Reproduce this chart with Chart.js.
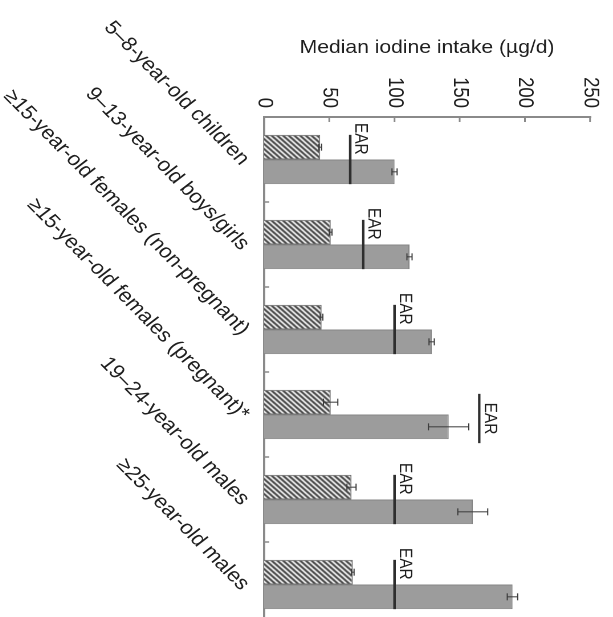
<!DOCTYPE html>
<html>
<head>
<meta charset="utf-8">
<script src="https://cdn.jsdelivr.net/npm/chart.js@4.4.0/dist/chart.umd.min.js"></script>
<style>
  html, body { margin: 0; padding: 0; background: #fff; }
  #frame { position: relative; width: 613px; height: 617px; overflow: hidden; background: #fff; }
  /* the chart is laid out as a column chart, then turned a quarter clockwise */
  #turn {
    position: absolute; left: 0; top: 0;
    width: 640px; height: 538px;
    transform-origin: 0 0;
    transform: translate(613px, 0) rotate(90deg) scale(1, 1.14);
  }
</style>
</head>
<body>
<div id="frame"><div id="turn"><canvas id="c" width="640" height="538"></canvas></div></div>
<script>
const categories = [
  '5–8-year-old children',
  '9–13-year-old boys/girls',
  '≥15-year-old females (non-pregnant)',
  '≥15-year-old females (pregnant)*',
  '19–24-year-old males',
  '≥25-year-old males'
];
const hatchedValues = [43, 51, 44, 51, 67, 68];
const hatchedErrors = [1, 1, 1, 5.5, 3.5, 1];
const solidValues   = [100, 111.5, 128.5, 141.5, 160, 190.5];
const solidErrors   = [2, 2, 2, 15.5, 11.5, 4];
const earValues     = [66, 76, 100, 165, 100, 100];
const valueTicks    = [0, 50, 100, 150, 200, 250];

const FONT = "'Liberation Sans', Arial, Helvetica, sans-serif";
const TEXT = '#1e1e1e';
const AXIS = '#8a8a8a';

// diagonal hatch fill
function makeHatch() {
  const s = 5;
  const p = document.createElement('canvas');
  p.width = s; p.height = s;
  const g = p.getContext('2d');
  g.fillStyle = '#ffffff';
  g.fillRect(0, 0, s, s);
  g.strokeStyle = '#333333';
  g.lineWidth = 1.8;
  g.beginPath();
  g.moveTo(-1, s + 1); g.lineTo(s + 1, -1);
  g.moveTo(-1, 1); g.lineTo(1, -1);
  g.moveTo(s - 1, s + 1); g.lineTo(s + 1, s - 1);
  g.stroke();
  return g.createPattern(p, 'repeat');
}

const overlay = {
  id: 'overlay',
  afterDatasetsDraw(chart) {
    const { ctx, scales: { x, y } } = chart;
    const m0 = chart.getDatasetMeta(0).data;
    const m1 = chart.getDatasetMeta(1).data;
    ctx.save();

    // error bars
    const sets = [[m0, hatchedValues, hatchedErrors], [m1, solidValues, solidErrors]];
    ctx.strokeStyle = '#3a3a3a';
    ctx.lineWidth = 1;
    sets.forEach(([bars, vals, errs]) => {
      bars.forEach((b, i) => {
        const lo = y.getPixelForValue(vals[i] - errs[i]);
        const hi = y.getPixelForValue(vals[i] + errs[i]);
        ctx.beginPath();
        ctx.moveTo(b.x, lo); ctx.lineTo(b.x, hi);
        ctx.moveTo(b.x - 3.5, lo); ctx.lineTo(b.x + 3.5, lo);
        ctx.moveTo(b.x - 3.5, hi); ctx.lineTo(b.x + 3.5, hi);
        ctx.stroke();
      });
    });

    // EAR reference marks
    ctx.font = '15.5px ' + FONT;
    ctx.fillStyle = TEXT;
    ctx.textBaseline = 'alphabetic';
    earValues.forEach((v, i) => {
      const a = m0[i], b = m1[i];
      let left = a.x - a.width / 2;
      let right = b.x + b.width / 2;
      const py = y.getPixelForValue(v);
      const clear = v > solidValues[i] + solidErrors[i];
      if (clear) { left += 4; right += 4; }
      ctx.strokeStyle = '#2e2e2e';
      ctx.lineWidth = 2.2;
      ctx.beginPath();
      ctx.moveTo(left, py); ctx.lineTo(right, py);
      ctx.stroke();
      if (clear) {
        ctx.textAlign = 'center';
        ctx.fillText('EAR', (left + right) / 2, py - 5);
      } else {
        ctx.textAlign = 'left';
        ctx.fillText('EAR', left - 12, py - 4.5);
      }
    });
    ctx.restore();
  },
  afterDraw(chart) {
    const { ctx, scales: { x, y } } = chart;
    ctx.save();
    ctx.strokeStyle = AXIS;
    ctx.lineWidth = 1.5;
    ctx.beginPath();
    // inward ticks on the value axis
    valueTicks.forEach(v => {
      const py = y.getPixelForValue(v);
      ctx.moveTo(x.left, py); ctx.lineTo(x.left + 5, py);
    });
    // inward ticks between categories
    for (let i = 0; i < categories.length; i++) {
      const px = (x.getPixelForValue(i) + x.getPixelForValue(i + 1)) / 2;
      ctx.moveTo(px, y.bottom); ctx.lineTo(px, y.bottom - 4.5);
    }
    ctx.stroke();
    ctx.restore();
  }
};

new Chart(document.getElementById('c'), {
  type: 'bar',
  data: {
    labels: categories,
    datasets: [
      {
        label: 'Group A',
        data: hatchedValues,
        backgroundColor: makeHatch(),
        borderColor: '#6e6e6e',
        borderWidth: 1,
        barPercentage: 1.0,
        categoryPercentage: 0.58
      },
      {
        label: 'Group B',
        data: solidValues,
        backgroundColor: '#9c9c9c',
        borderColor: '#858585',
        borderWidth: 1,
        barPercentage: 1.0,
        categoryPercentage: 0.58
      }
    ]
  },
  options: {
    responsive: false,
    animation: false,
    devicePixelRatio: 2,
    layout: { padding: { left: 0, top: 16, right: 13, bottom: 0 } },
    plugins: { legend: { display: false }, tooltip: { enabled: false } },
    scales: {
      x: {
        grid: { display: false, drawTicks: false },
        border: { display: true, color: AXIS, width: 2 },
        ticks: {
          minRotation: 41, maxRotation: 41,
          padding: 8,
          labelOffset: 3,
          color: TEXT,
          font: { family: FONT, size: 19.5 }
        },
        afterFit(scale) { scale.height = 232; }
      },
      y: {
        min: 0, max: 250,
        grid: { display: false, drawTicks: false },
        border: { display: true, color: AXIS, width: 2 },
        ticks: {
          stepSize: 50,
          padding: 9,
          color: TEXT,
          font: { family: FONT, size: 18.5 }
        },
        title: {
          display: true,
          text: 'Median iodine intake (µg/d)',
          color: TEXT,
          font: { family: FONT, size: 18.5 },
          padding: { top: 37, bottom: 0 }
        },
        afterFit(scale) { scale.width = 117; }
      }
    }
  },
  plugins: [overlay]
});
</script>
</body>
</html>
